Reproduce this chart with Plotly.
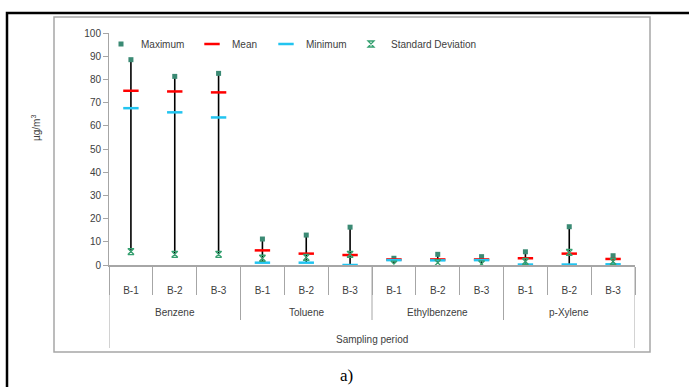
import plotly.graph_objects as go

compounds = ["Benzene", "Toluene", "Ethylbenzene", "p-Xylene"]
periods = ["B-1", "B-2", "B-3"]

maximum = [88.5, 81.3, 82.6, 11.2, 12.9, 16.3, 2.9, 4.6, 3.6, 5.7, 16.5, 4.0]
mean = [75.1, 74.8, 74.4, 6.3, 4.9, 4.3, 2.4, 2.4, 2.4, 2.9, 4.9, 2.6]
minimum = [67.6, 65.8, 63.6, 1.0, 1.0, 0.0, 2.1, 2.0, 2.1, 0.2, 0.2, 0.3]
std_dev = [5.8, 4.6, 4.6, 2.9, 3.3, 4.6, 0.4, 1.0, 0.5, 1.5, 5.4, 1.5]

y_ticks = list(range(0, 101, 10))

n_per = len(periods)
x = list(range(len(compounds) * n_per))
x_labels = [p for _ in compounds for p in periods]
group_centers = [g * n_per + (n_per - 1) / 2 for g in range(len(compounds))]
boundaries = [i - 0.5 for i in range(len(x) + 1)]
group_bounds = [g * n_per - 0.5 for g in range(1, len(compounds))]

lo = [min(a, b, c, d) for a, b, c, d in zip(maximum, mean, minimum, std_dev)]
hi = [max(a, b, c, d) for a, b, c, d in zip(maximum, mean, minimum, std_dev)]
span = [h - l for h, l in zip(hi, lo)]

FONT = "Liberation Sans"
TXT = "#404040"
GRAY = "#a6a6a6"

fig = go.Figure()

# high-low lines
fig.add_trace(go.Scatter(
    x=x, y=lo, mode="markers", marker=dict(opacity=0, size=1),
    showlegend=False, hoverinfo="skip",
    error_y=dict(type="data", symmetric=False, array=span,
                 arrayminus=[0] * len(span), width=0, color="black", thickness=1.6),
))
fig.add_trace(go.Scatter(
    x=x, y=maximum, mode="markers", name="Maximum", legend="legend",
    marker=dict(symbol="square", size=5, color="#3b8a74"),
))
fig.add_trace(go.Scatter(
    x=x, y=mean, mode="markers", name="Mean", legend="legend2",
    marker=dict(symbol="line-ew", size=11, line=dict(color="#ff0000", width=2.5)),
))
fig.add_trace(go.Scatter(
    x=x, y=minimum, mode="markers", name="Minimum", legend="legend3",
    marker=dict(symbol="line-ew", size=11, line=dict(color="#22c4f0", width=2.5)),
))
fig.add_trace(go.Scatter(
    x=x, y=std_dev, mode="markers", name="Standard Deviation", legend="legend4",
    marker=dict(symbol="hourglass-open", size=6, line=dict(color="#35a070", width=1.3),
                color="#35a070"),
))

def px_x(p):
    return (p - 109) / 526.0

def px_y(p):
    return (265 - p) / 232.0

shapes = [
    dict(type="rect", xref="paper", yref="paper",
         x0=px_x(7), x1=px_x(720), y0=px_y(13), y1=px_y(420),
         line=dict(color="black", width=2.5), layer="below"),
    dict(type="rect", xref="paper", yref="paper",
         x0=px_x(54), x1=px_x(650), y0=px_y(17), y1=px_y(352),
         line=dict(color=GRAY, width=1.5), layer="below"),
]
for b in group_bounds:
    shapes.append(dict(type="line", xref="x", yref="paper", x0=b, x1=b, y0=0, y1=px_y(320),
                       line=dict(color=GRAY, width=1)))
for b in (boundaries[0], boundaries[-1]):
    shapes.append(dict(type="line", xref="x", yref="paper", x0=b, x1=b, y0=0, y1=px_y(348),
                       line=dict(color=GRAY, width=1)))

annotations = [
    dict(text="Sampling period", xref="paper", yref="paper", x=0.5, y=px_y(339),
         showarrow=False, font=dict(family=FONT, size=10, color=TXT), yanchor="middle"),
    dict(text="\u00b5g/m<sup>3</sup>", xref="paper", yref="paper", x=px_x(36), y=px_y(128),
         showarrow=False, textangle=-90, font=dict(family=FONT, size=10, color=TXT),
         xanchor="center", yanchor="middle"),
    dict(text="a)", xref="paper", yref="paper", x=px_x(346), y=px_y(375),
         showarrow=False, font=dict(family="Liberation Serif", size=17, color="black"),
         xanchor="center", yanchor="middle"),
]
for name, c in zip(compounds, group_centers):
    annotations.append(dict(text=name, xref="x", yref="paper", x=c, y=px_y(312),
                            showarrow=False, font=dict(family=FONT, size=10, color=TXT),
                            xanchor="center", yanchor="middle"))

def leg(px):
    return dict(orientation="h", x=px_x(px), y=px_y(44), xanchor="left", yanchor="middle",
                bgcolor="rgba(0,0,0,0)", font=dict(family=FONT, size=10, color=TXT),
                itemwidth=30)

fig.update_layout(
    width=689, height=387,
    margin=dict(l=109, r=54, t=33, b=122),
    paper_bgcolor="white", plot_bgcolor="white",
    font=dict(family=FONT, size=10, color=TXT),
    shapes=shapes, annotations=annotations,
    legend=leg(101), legend2=leg(192), legend3=leg(266), legend4=leg(351),
    xaxis=dict(range=[boundaries[0], boundaries[-1]], tickvals=x, ticktext=x_labels,
               ticks="", ticklabelstandoff=15, showline=True, linecolor=GRAY, linewidth=1.5,
               showgrid=False, zeroline=False,
               minor=dict(tickvals=boundaries, ticks="outside", ticklen=28, tickcolor=GRAY,
                          tickwidth=1, showgrid=False),
               tickfont=dict(family=FONT, size=10, color=TXT)),
    yaxis=dict(range=[0, 100], tickvals=y_ticks, ticks="outside", ticklen=5,
               tickcolor=GRAY, showline=True, linecolor=GRAY, linewidth=1,
               showgrid=False, zeroline=False, tickfont=dict(family=FONT, size=10, color=TXT)),
)

fig.write_html("out.html")
